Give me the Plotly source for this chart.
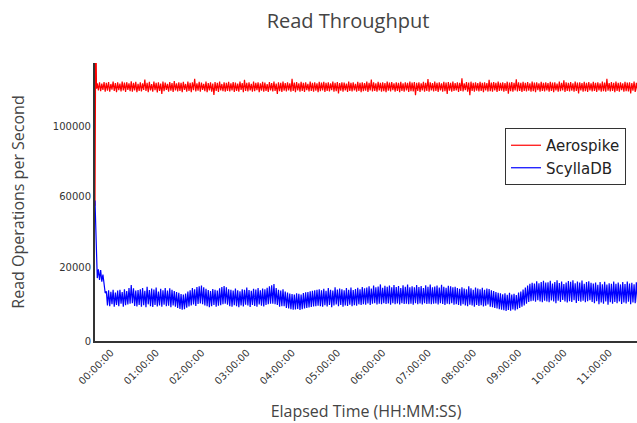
import pandas as pd
import plotly.graph_objects as go

# ---------------- data ----------------
series_names = ["Aerospike", "ScyllaDB"]
series_colors = ["#ff0000", "#0000ff"]

# sample times in minutes: the first samples, then one every 1.5 minutes
head_minutes = [0, 1, 2, 3, 4.5, 6, 7.5, 9, 10.5, 12, 13.5]
body_start_minute = 15
body_step_minutes = 1.5

aerospike_ops = [
    55000, 160000, 121500, 124500, 120500, 125000, 120000, 124300, 120800, 125200, 119800,
    # 00:15 - 01:00
    124800, 120300, 125200, 119700, 124100, 120900, 125500, 120100, 124600, 119500,
    125000, 120600, 124300, 119900, 125400, 120400, 124900, 119600, 125100, 120800,
    124400, 120000, 125600, 119800, 124700, 120500, 125300, 119400, 124200, 120200,
    # 01
    125100, 119900, 124500, 120700, 126600, 120100, 124800, 119500, 125300, 120400,
    124000, 119800, 125400, 120600, 124700, 119300, 125000, 120200, 124300, 118400,
    125500, 120000, 124900, 120800, 124200, 119700, 125200, 120300, 124600, 119600,
    125700, 120500, 124400, 119900, 125000, 120100, 124800, 119400, 125300, 120700,
    # 02
    124100, 119800, 125400, 120200, 124700, 119500, 125100, 120600, 127100, 119900,
    124500, 120300, 125300, 119700, 124900, 120800, 124200, 120000, 125500, 119400,
    124600, 120400, 125000, 119800, 124300, 117900, 125200, 120100, 124800, 119600,
    125400, 120500, 124100, 120000, 125100, 119700, 124700, 120200, 125300, 119900,
    # 03
    124500, 120400, 125200, 119600, 124900, 120100, 124300, 119800, 125500, 120700,
    124600, 119500, 126400, 120200, 124800, 119900, 125100, 120500, 124200, 119700,
    125400, 120000, 124700, 120600, 125000, 119400, 124400, 120300, 125300, 119800,
    124900, 120100, 124100, 119600, 125200, 120400, 124600, 119900, 125500, 120200,
    # 04
    124300, 118400, 125000, 120000, 124800, 119600, 125400, 120300, 124600, 119900,
    125100, 120500, 124400, 119700, 127000, 120100, 124900, 119500, 125200, 120400,
    124500, 119800, 125300, 120200, 124700, 119600, 125000, 120600, 124200, 119900,
    125500, 120100, 124800, 119700, 125100, 120300, 124400, 119500, 125300, 120000,
    # 05
    124900, 120400, 125300, 119600, 124700, 120200, 125000, 119900, 124500, 120600,
    125500, 119700, 124800, 120000, 125200, 118800, 124600, 120300, 125100, 119800,
    124900, 120500, 124300, 119600, 125400, 120100, 124700, 119900, 125000, 120400,
    124200, 119700, 125300, 120200, 124800, 119500, 125100, 120000, 124600, 120300,
    # 06
    125400, 119600, 124700, 120400, 126600, 119900, 125000, 120200, 124500, 119700,
    125300, 120500, 124800, 119800, 125100, 120000, 124600, 119500, 125500, 120300,
    124900, 119900, 125200, 120600, 124400, 119700, 125000, 120100, 124800, 119400,
    125300, 120200, 124500, 119800, 125100, 120500, 124700, 119600, 125400, 120000,
    # 07
    124900, 119900, 125200, 117700, 124700, 120200, 125000, 119600, 124400, 120500,
    125300, 119800, 124800, 120100, 126900, 119700, 125100, 120400, 124600, 119900,
    125400, 120200, 124800, 119600, 125100, 120500, 124500, 119800, 125300, 120000,
    124900, 118500, 125200, 120300, 124700, 119700, 125500, 120100, 124600, 120400,
    # 08
    125000, 119600, 124800, 120200, 127300, 119900, 124500, 120600, 125200, 119700,
    124900, 117800, 125400, 120100, 124700, 119800, 125100, 120300, 124600, 119900,
    125300, 120200, 124800, 119500, 125100, 120400, 124600, 119800, 126400, 120000,
    124900, 119700, 125200, 120500, 124700, 119600, 125500, 120100, 124800, 120300,
    # 09
    125000, 119800, 124600, 120200, 125400, 118600, 124900, 120000, 125200, 119700,
    124700, 120400, 126700, 119900, 125100, 120100, 124800, 119600, 125300, 120200,
    124700, 119900, 125200, 120300, 124500, 119700, 125400, 120000, 124900, 119500,
    125100, 120600, 124400, 119800, 125300, 120100, 124700, 119900, 125000, 120400,
    # 10
    124600, 119700, 125300, 120100, 124900, 119500, 125100, 120400, 124300, 119800,
    125500, 120000, 124700, 120500, 126200, 119600, 125000, 120200, 124800, 119900,
    125200, 120300, 124500, 119700, 125400, 120100, 124900, 118700, 125100, 120400,
    124600, 119800, 125300, 120000, 124800, 119600, 125200, 120500, 124400, 119900,
    # 11
    125300, 120200, 124700, 119600, 125100, 120400, 124500, 119800, 125400, 120000,
    124900, 119700, 127000, 120300, 124600, 119900, 125200, 120100, 124800, 119500,
    125500, 120200, 124700, 119800, 125000, 120600, 124400, 119700, 125300, 120000,
    124900, 119900, 125100, 118800, 124600, 120300, 125400, 119600, 124800, 120100,
    # 12
    125000, 119900, 124700,
]

scylladb_ops = [
    58000, 41000, 24000, 14000, 19000, 13000, 18500, 12000, 16000, 9000, 5500,
    # 00:15 - 01:00
    6500, -1500, 7000, -2000, 6200, -800, 7400, -2300, 5800, -1200,
    6900, -1900, 7300, -600, 6100, -2200, 7700, -1400, 6600, -1000,
    8400, -500, 10100, -300, 8200, -1800, 6900, -2100, 7200, -1300,
    # 01
    7600, -2200, 8300, -1400, 6800, -2500, 9100, -900, 7200, -1900,
    8000, -2400, 7500, -1300, 8600, -2100, 6400, -1600, 7900, -2300,
    7100, -1100, 8400, -2000, 6900, -1700, 8200, -2600, 7400, -1500,
    6600, -2300, 6100, -3000, 5600, -3500, 5000, -3900, 4700, -3600,
    # 02
    5200, -2800, 6300, -2100, 7000, -1600, 8400, -1000, 7600, -1800,
    8900, -700, 9400, -400, 9800, -900, 8700, -1500, 7900, -2000,
    7200, -2600, 6600, -1900, 7800, -1200, 7300, -2200, 6900, -1700,
    8200, -1400, 8900, -900, 9500, -600, 8800, -1100, 7600, -1900,
    # 03
    7400, -2300, 6900, -1400, 8100, -2000, 7000, -2600, 6500, -1500,
    7700, -2100, 7300, -1100, 8600, -1600, 7200, -2400, 6800, -1300,
    7900, -1800, 7500, -2200, 8300, -1000, 7100, -1700, 8000, -2100,
    7600, -1200, 8500, -900, 9300, -600, 9900, -500, 10600, -800,
    # 04
    8300, -1300, 7400, -2200, 6900, -2000, 7700, -1900, 6300, -2900,
    5800, -3300, 5200, -3600, 4900, -4000, 4700, -3800, 5400, -3500,
    5100, -4100, 4600, -3700, 5500, -3200, 5900, -3000, 6100, -2700,
    6500, -2400, 6800, -2100, 7100, -2000, 7300, -1700, 7600, -1900,
    # 05
    7100, -2300, 7900, -1400, 6800, -2100, 8400, -1200, 7300, -2500,
    6900, -1600, 8800, -1000, 7500, -1900, 8100, -1300, 7700, -2200,
    7000, -1500, 8300, -1800, 7400, -1100, 8600, -2000, 7200, -1400,
    7800, -1700, 8500, -900, 7600, -1300, 8900, -800, 8200, -1100,
    # 06
    8600, -400, 9300, -1200, 8100, -600, 9800, -300, 8800, -1000,
    9200, -500, 10400, -800, 8500, -200, 9600, -700, 9000, -400,
    9700, -1100, 8700, -300, 10100, -800, 8900, -400, 9500, -1000,
    8400, -200, 9900, -700, 9100, -500, 10300, -900, 8800, -600,
    # 07
    9400, -1100, 8700, -300, 10100, -800, 8900, -400, 9500, -1000,
    8400, -200, 9900, -700, 9100, -500, 10300, -900, 8800, -600,
    9200, -400, 9800, -1000, 8600, -300, 10200, -700, 9000, -1200,
    8500, -500, 9600, -800, 9300, -300, 8700, -1100, 9100, -900,
    # 08
    8300, -1300, 7900, -1700, 8800, -900, 8100, -1500, 7600, -2000,
    9400, -1100, 8200, -1600, 7400, -2200, 8600, -1200, 8000, -1800,
    7700, -1400, 8500, -2100, 7300, -1700, 8100, -1000, 7800, -2300,
    7000, -2600, 6700, -2900, 6100, -3300, 5700, -3600, 5300, -3900,
    # 09
    4800, -4300, 5300, -4600, 4500, -4100, 5600, -4500, 4700, -3800,
    5100, -4400, 4400, -3700, 5800, -3000, 6400, -2200, 7500, -1500,
    8600, -600, 9700, 400, 10700, 900, 11300, 1200, 10900, 600,
    12200, 1500, 11000, 800, 11700, 300, 12500, 1100, 11400, 700,
    # 10
    11600, 300, 12400, 1300, 10900, 700, 11800, -200, 12700, 1100,
    11200, 400, 12000, 1600, 10600, 800, 11500, 200, 12300, 900,
    11900, 500, 12800, 1400, 11100, -100, 12100, 1000, 11400, 600,
    12600, 1200, 10800, 300, 11700, 900, 12200, 1500, 11300, 400,
    # 11
    10900, -300, 11400, 900, 10200, -800, 11700, 200, 10500, -500,
    11900, 700, 10300, -1100, 11100, 300, 10700, -600, 12100, 400,
    10800, -200, 11500, 800, 10400, -700, 11800, 100, 10600, -400,
    12000, 600, 10900, -900, 11300, 200, 10500, -300, 11600, 500,
    # 12
    10800, -100, 11200,
]

y_tick_values = [-21700, 20000, 60000, 100000]
y_tick_labels = ["0", "20000", "60000", "100000"]
y_range = [-21700, 136000]

# figure geometry (page body margin is removed below)
FIG_W, FIG_H = 637, 423
M_L, M_R, M_T, M_B = 95, 0, 63, 82
PX_PER_HOUR = 45.3
x_range_hours = (FIG_W - M_L - M_R) / PX_PER_HOUR


def minutes_for(n):
    mins = list(head_minutes)
    m = body_start_minute
    while len(mins) < n:
        mins.append(m)
        m += body_step_minutes
    return mins[:n]


base = pd.Timestamp("1970-01-01 00:00:00")

fig = go.Figure()
for name, color, vals in zip(series_names, series_colors,
                             [aerospike_ops, scylladb_ops]):
    t = base + pd.to_timedelta(minutes_for(len(vals)), unit="m")
    fig.add_trace(go.Scatter(
        x=t, y=vals, mode="lines", name=name,
        line=dict(color=color, width=1.2),
    ))

title_font = dict(family="Open Sans", color="#444444")
plot_w = FIG_W - M_L - M_R
plot_h = FIG_H - M_T - M_B

fig.update_layout(
    width=FIG_W, height=FIG_H,
    margin=dict(l=M_L, r=M_R, t=M_T, b=M_B, autoexpand=False),
    paper_bgcolor="white", plot_bgcolor="white",
    title=dict(text="Read Throughput", x=348 / FIG_W, xanchor="center",
               y=1 - 21 / FIG_H, yanchor="middle",
               font=dict(size=20, **title_font)),
    showlegend=True,
    legend=dict(x=(505 - 95) / plot_w, y=(341 - 128) / plot_h,
                xanchor="left", yanchor="top",
                bgcolor="white", bordercolor="#333333", borderwidth=1,
                font=dict(family="DejaVu Sans", size=15, color="#222222"),
                itemwidth=30, tracegroupgap=0),
    xaxis=dict(
        range=[base, base + pd.Timedelta(hours=x_range_hours)],
        tick0=base, dtick=3600000, tickformat="%H:%M:%S",
        tickangle=-45, ticks="", ticklabelshift=16,
        tickfont=dict(family="DejaVu Sans", size=10, color="#333333"),
        showgrid=False, zeroline=False, automargin=False,
        showline=True, linecolor="#333333", linewidth=2,
        title=dict(text="Elapsed Time (HH:MM:SS)", standoff=20,
                   font=dict(size=16, **title_font)),
    ),
    yaxis=dict(
        range=y_range, tickmode="array",
        tickvals=y_tick_values, ticktext=y_tick_labels,
        ticks="", automargin=False,
        tickfont=dict(family="DejaVu Sans", size=10, color="#333333"),
        showgrid=False, zeroline=False,
        showline=True, linecolor="#333333", linewidth=2,
        title=dict(text="Read Operations per Second", standoff=24,
                   font=dict(size=16, **title_font)),
    ),
)

fig.write_html(
    "out.html",
    config={"displayModeBar": False},
    post_script=("document.documentElement.style.overflow='hidden';"
                 "document.body.style.overflow='hidden';"
                 "document.body.style.margin='0';"),
)
